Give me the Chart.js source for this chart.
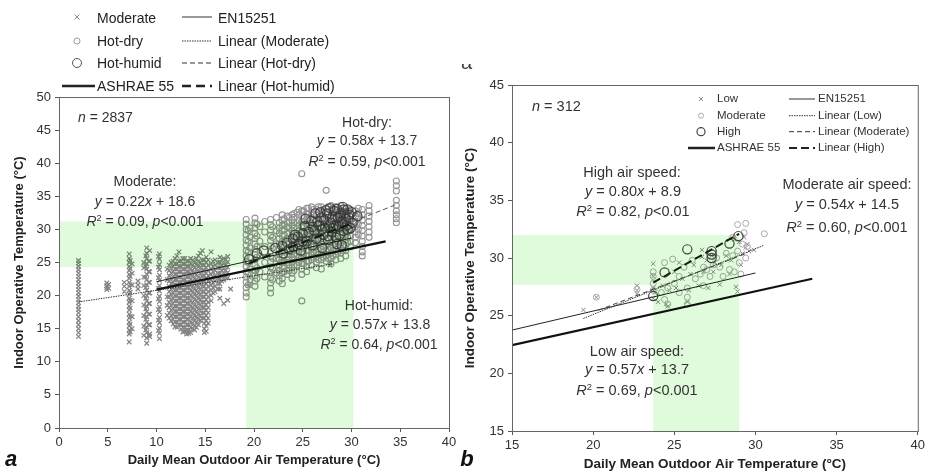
<!DOCTYPE html>
<html>
<head>
<meta charset="utf-8">
<script src="https://cdn.jsdelivr.net/npm/chart.js@4.4.0/dist/chart.umd.min.js"></script>
<style>
  body { margin: 0; background: #fff; font-family: 'Liberation Sans', Arial, sans-serif; }
  #page { position: relative; width: 928px; height: 472px; overflow: hidden; }
  canvas { position: absolute; top: 0; }
  .t { position: absolute; white-space: nowrap; color: #333; font-size: 14px; line-height: 1; transform: translate(-50%, -50%); }
  .l { transform: translate(0, -50%); }
  .s { font-size: 14.5px; }
  .lg { color: #222; }
  .lg2 { font-size: 11.5px; color: #333; }
  .panel { font-weight: bold; font-style: italic; font-size: 22px; color: #111; }
  sup { font-size: 0.65em; line-height: 0; vertical-align: 0.5em; }
</style>
</head>
<body>
<div id="page">
  <canvas id="chartA" width="460" height="472" style="left:0"></canvas>
  <canvas id="chartB" width="468" height="472" style="left:460px"></canvas>

  <svg width="928" height="472" style="position:absolute;left:0;top:0;pointer-events:none">
    <!-- legend a -->
    <g stroke="#8c8c8c" stroke-width="1"><line x1="74.5" y1="14.5" x2="79.5" y2="19.5"/><line x1="79.5" y1="14.5" x2="74.5" y2="19.5"/></g>
    <circle cx="77" cy="41" r="3" fill="none" stroke="#9c9c9c"/>
    <circle cx="77" cy="63" r="4.5" fill="none" stroke="#555"/>
    <line x1="62" y1="86" x2="95" y2="86" stroke="#222" stroke-width="2.5"/>
    <line x1="182" y1="17" x2="212" y2="17" stroke="#333"/>
    <line x1="182" y1="41" x2="212" y2="41" stroke="#333" stroke-dasharray="1.5,1"/>
    <line x1="182" y1="63" x2="212" y2="63" stroke="#333" stroke-dasharray="5,3"/>
    <line x1="182" y1="86" x2="212" y2="86" stroke="#222" stroke-width="2.5" stroke-dasharray="9,5"/>
    <!-- legend b -->
    <g stroke="#8c8c8c" stroke-width="1"><line x1="699" y1="97" x2="703" y2="101"/><line x1="703" y1="97" x2="699" y2="101"/></g>
    <circle cx="701" cy="115.7" r="2.5" fill="none" stroke="#aaa"/>
    <circle cx="701" cy="131.7" r="4" fill="none" stroke="#444" stroke-width="1.2"/>
    <line x1="688" y1="148" x2="715" y2="148" stroke="#222" stroke-width="2.5"/>
    <line x1="789" y1="99" x2="815" y2="99" stroke="#333"/>
    <line x1="789" y1="115.7" x2="815" y2="115.7" stroke="#333" stroke-dasharray="1.5,1"/>
    <line x1="789" y1="131.7" x2="815" y2="131.7" stroke="#333" stroke-dasharray="5,3"/>
    <line x1="789" y1="148" x2="815" y2="148" stroke="#222" stroke-width="2" stroke-dasharray="8,4"/>
  </svg>

  <!-- legend text a -->
  <div class="t l lg" style="left:97px;top:18px">Moderate</div>
  <div class="t l lg" style="left:97px;top:41px">Hot-dry</div>
  <div class="t l lg" style="left:97px;top:63px">Hot-humid</div>
  <div class="t l lg" style="left:97px;top:86px">ASHRAE 55</div>
  <div class="t l lg" style="left:218px;top:18px">EN15251</div>
  <div class="t l lg" style="left:218px;top:41px">Linear (Moderate)</div>
  <div class="t l lg" style="left:218px;top:63px">Linear (Hot-dry)</div>
  <div class="t l lg" style="left:218px;top:86px">Linear (Hot-humid)</div>

  <!-- legend text b -->
  <div class="t l lg2" style="left:717px;top:99px">Low</div>
  <div class="t l lg2" style="left:717px;top:116px">Moderate</div>
  <div class="t l lg2" style="left:717px;top:132px">High</div>
  <div class="t l lg2" style="left:717px;top:148px">ASHRAE 55</div>
  <div class="t l lg2" style="left:818px;top:99px">EN15251</div>
  <div class="t l lg2" style="left:818px;top:116px">Linear (Low)</div>
  <div class="t l lg2" style="left:818px;top:132px">Linear (Moderate)</div>
  <div class="t l lg2" style="left:818px;top:148px">Linear (High)</div>

  <!-- annotations a -->
  <div class="t l" style="left:78px;top:117px"><i>n</i> = 2837</div>
  <div class="t" style="left:145px;top:181px">Moderate:</div>
  <div class="t" style="left:145px;top:201px"><i>y</i> = 0.22<i>x</i> + 18.6</div>
  <div class="t" style="left:145px;top:221px"><i>R</i><sup>2</sup> = 0.09, <i>p</i>&lt;0.001</div>
  <div class="t" style="left:367px;top:122px">Hot-dry:</div>
  <div class="t" style="left:367px;top:140px"><i>y</i> = 0.58<i>x</i> + 13.7</div>
  <div class="t" style="left:367px;top:161px"><i>R</i><sup>2</sup> = 0.59, <i>p</i>&lt;0.001</div>
  <div class="t" style="left:379px;top:305px">Hot-humid:</div>
  <div class="t" style="left:380px;top:324px"><i>y</i> = 0.57<i>x</i> + 13.8</div>
  <div class="t" style="left:379px;top:344px"><i>R</i><sup>2</sup> = 0.64, <i>p</i>&lt;0.001</div>

  <!-- annotations b -->
  <div class="t l s" style="left:532px;top:106px"><i>n</i> = 312</div>
  <div class="t s" style="left:632px;top:172px">High air speed:</div>
  <div class="t s" style="left:633px;top:191px"><i>y</i> = 0.80<i>x</i> + 8.9</div>
  <div class="t s" style="left:633px;top:211px"><i>R</i><sup>2</sup> = 0.82, <i>p</i>&lt;0.01</div>
  <div class="t s" style="left:847px;top:184px">Moderate air speed:</div>
  <div class="t s" style="left:847px;top:204px"><i>y</i> = 0.54<i>x</i> + 14.5</div>
  <div class="t s" style="left:847px;top:227px"><i>R</i><sup>2</sup> = 0.60, <i>p</i>&lt;0.001</div>
  <div class="t s" style="left:637px;top:351px">Low air speed:</div>
  <div class="t s" style="left:637px;top:369px"><i>y</i> = 0.57<i>x</i> + 13.7</div>
  <div class="t s" style="left:637px;top:390px"><i>R</i><sup>2</sup> = 0.69, <i>p</i>&lt;0.001</div>

  <!-- panel letters -->
  <div class="t panel" style="left:11px;top:459px">a</div>
  <div class="t panel" style="left:467px;top:459px">b</div>
  <div style="position:absolute;left:461px;top:64px;width:12px;height:10px;overflow:hidden">
    <div style="position:absolute;left:0;top:-12px;font-size:20px;line-height:1;color:#444">a</div>
  </div>
</div>

<script>
Chart.defaults.font.family = "'Liberation Sans', Arial, sans-serif";
Chart.defaults.color = '#333';

// ---- panel a: climate zones (x = outdoor, ys = indoor) ----
const moderateCols = [
  [2.0, [25.3,24.9,24.4,23.9,23.4,22.9,22.4,21.9,21.4,20.9,20.4,19.9,19.4,18.9,18.4,17.9,17.4,16.8,16.2,15.6,15.0,14.4,13.8]],
  [4.9, [21.9,21.5,21.2,20.9]],
  [5.1, [21.7,21.1]],
  [6.7, [22.0,21.4,20.6]],
  [7.2, [26.3,25.6,25.0,24.4,23.8,23.2,22.6,22.0,21.4,20.8,20.2,19.6,19.0,18.4,17.8,17.2,16.6,16.0,15.4,14.8,14.2,13.0]],
  [7.3, [25.3,24.1,22.9,21.7,20.5,19.3,18.1,16.9,15.7,14.5]],
  [7.5, [24.8,23.4,21.6,19.2,16.8,15.0]],
  [8.1, [22.2,21.6,21.0]],
  [8.7, [25.0,24.2,22.8,21.5,20.0,18.6,17.0,15.4,14.0]],
  [8.9, [26.0,24.4,22.8,21.2,19.6,18.0,16.4,14.8]],
  [9.0, [27.2,26.4,25.6,24.8,24.0,23.2,22.4,21.6,20.8,20.0,19.2,18.4,17.6,16.8,16.0,15.2,14.4,13.6,12.8]],
  [9.2, [25.2,23.6,22.0,20.4,18.8,17.2,15.6,14.0]],
  [9.3, [26.8,25.2,23.6,22.0,20.4,18.8,17.2,15.6,14.2,13.8]],
  [10.2, [25.9,24.3,22.7,21.1,19.5,17.9,16.3,14.7]],
  [10.3, [26.3,25.5,24.7,23.9,23.1,22.3,21.5,20.7,19.9,19.1,18.3,17.5,16.7,15.9,15.1,14.3,13.5]],
  [11.1, [24.0,22.4,19.8,18.5,17.0]],
  [11.3, [24.6,23.8,23.0,22.2,21.4,20.6,19.8,19.0,18.2,17.4,16.6]],
  [11.5, [25.0,24.2,23.4,22.6,21.8,21.0,20.2,19.4,18.6,17.8,17.0,16.2]],
  [11.7, [25.2,24.4,23.6,22.8,22.0,21.2,20.4,19.6,18.8,18.0,17.2,16.4,15.7]],
  [11.9, [25.6,24.8,24.0,23.2,22.4,21.6,20.8,20.0,19.2,18.4,17.6,16.8,16.0,15.3]],
  [12.1, [26.0,24.8,24.0,23.2,22.4,21.6,20.8,20.0,19.2,18.4,17.6,16.8,16.0,15.2]],
  [12.3, [26.6,25.2,24.4,23.6,22.8,22.0,21.2,20.4,19.6,18.8,18.0,17.2,16.4,15.6]],
  [12.5, [25.2,24.4,23.6,22.8,22.0,21.2,20.4,19.6,18.8,18.0,17.2,16.4,15.6,14.9]],
  [12.7, [25.6,24.8,24.0,23.2,22.4,21.6,20.8,20.0,19.2,18.4,17.6,16.8,16.0,15.2,14.5]],
  [12.9, [25.6,24.8,24.0,23.2,22.4,21.6,20.8,20.0,19.2,18.4,17.6,16.8,16.0,15.2,14.6]],
  [13.1, [25.2,24.4,23.6,22.8,22.0,21.2,20.4,19.6,18.8,18.0,17.2,16.4,15.6,14.8,14.2]],
  [13.3, [25.2,24.4,23.6,22.8,22.0,21.2,20.4,19.6,18.8,18.0,17.2,16.4,15.6,14.8,14.3]],
  [13.5, [25.6,24.8,24.0,23.2,22.4,21.6,20.8,20.0,19.2,18.4,17.6,16.8,16.0,15.2,14.4]],
  [13.7, [25.4,24.6,23.8,23.0,22.2,21.4,20.6,19.8,19.0,18.2,17.4,16.6,15.8,15.0]],
  [13.9, [25.0,24.2,23.4,22.6,21.8,21.0,20.2,19.4,18.6,17.8,17.0,16.2,15.4,14.8]],
  [14.1, [25.6,24.8,24.0,23.2,22.4,21.6,20.8,20.0,19.2,18.4,17.6,16.8,16.0,15.2]],
  [14.3, [26.0,25.2,24.4,23.6,22.8,22.0,21.2,20.4,19.6,18.8,18.0,17.2,16.4,15.6]],
  [14.5, [26.4,25.0,24.2,23.4,22.6,21.8,21.0,20.2,19.4,18.6,17.8,17.0,16.2]],
  [14.7, [26.8,25.4,24.6,23.8,23.0,22.2,21.4,20.6,19.8,19.0,18.2,17.4,16.6]],
  [14.9, [25.4,24.6,23.8,23.0,22.2,21.4,20.6,19.8,19.0,18.2,17.4,16.6,15.8,15.0,14.4]],
  [15.1, [25.8,25.0,24.2,23.4,22.6,21.8,21.0,20.2,19.4,18.6,17.8,17.0,16.2,15.4,14.6]],
  [15.3, [25.4,24.6,23.8,23.0,22.2,21.4,20.6,19.8,19.0,18.2,17.4,16.6,15.8]],
  [15.6, [26.6,24.8,24.0,23.2,22.4,21.6,20.8,20.0,19.2]],
  [15.8, [25.2,24.4,23.6,22.8,22.0,21.2,20.4]],
  [16.0, [25.4,24.6,23.8,23.0,22.2,21.4,20.6]],
  [16.3, [25.0,24.2,23.4,22.6,21.8,21.0]],
  [16.5, [25.8,25.0,24.2,23.4,22.6,21.8,21.0,19.6]],
  [16.7, [25.4,24.6,23.8,23.0,22.2]],
  [16.9, [25.6,24.8,24.0,23.2,22.4,18.8]],
  [17.1, [25.4,24.6,23.8,23.0]],
  [17.3, [25.9,25.1,24.3,23.5,22.7,19.3]],
  [17.6, [21.0]],
  [19.5, [22.8,21.5]],
  [20.3, [23.4]],
  [27.8, [25.0,24.6]]
];

const hotDryCols = [
  [19.2, [31.5,30.8,30.0,29.2,28.4,27.6,26.8,26.0,25.2,24.4,23.6,22.8,22.0,21.2,20.4,19.8]],
  [19.4, [29.8,28.2,26.6,25.0,23.4,21.6]],
  [19.6, [30.2,28.8,27.2,25.8,24.0,22.4]],
  [20.1, [31.7,31.0,30.2,29.4,28.6,27.8,27.0,26.2,25.4,24.6,23.8,23.0,22.2,21.4]],
  [20.3, [30.8,29.0,27.4,25.8,24.2,22.6]],
  [20.6, [30.4,28.2,26.0,23.6]],
  [21.1, [31.2,29.6,27.4,25.0,22.8]],
  [21.7, [31.5,30.7,29.9,29.1,28.3,27.5,26.7,25.9,25.1,24.3,23.5,22.7,21.9,21.1,20.4]],
  [21.9, [30.4,28.8,27.2,25.6,24.0,22.4]],
  [22.3, [31.8,29.8,27.8,25.6,23.4]],
  [22.6, [31.0,30.2,29.4,28.6,27.8,27.0,26.2,25.4,24.6,23.8,23.0,22.2]],
  [22.9, [32.2,31.4,30.6,29.8,29.0,28.2,27.4,26.6,25.8,25.0,24.2,23.4,22.6,21.8]],
  [23.1, [31.6,30.8,30.0,29.2,28.4,27.6,26.8,26.0,25.2,24.4,23.6]],
  [23.4, [32.0,30.4,28.6,26.8,25.0,23.2]],
  [23.6, [31.8,31.0,30.2,29.4,28.6,27.8,27.0,26.2,25.4,24.6,23.8]],
  [23.9, [32.2,31.4,30.6,29.8,29.0,28.2,27.4,26.6,25.8,25.0,24.2,23.4,22.6]],
  [24.1, [32.4,31.8,31.0,30.2,29.4,28.6,27.8,27.0,26.2,25.4,24.6,23.8]],
  [24.4, [32.6,31.0,29.4,27.8,26.2,24.6]],
  [24.6, [33.0,32.2,31.4,30.6,29.8,29.0,28.2,27.4,26.6,25.8,25.0]],
  [24.9, [38.4,32.8,32.0,31.2,30.4,29.6,28.8,28.0,27.2,26.4,25.6,24.8,24.0,23.2,19.2]],
  [25.1, [32.8,32.0,31.2,30.4,29.6,28.8,28.0,27.2,26.4,25.6,24.8]],
  [25.4, [33.2,32.4,31.6,30.8,30.0,29.2,28.4,27.6,26.8,26.0,25.2,24.4,23.6]],
  [25.6, [33.2,32.4,31.6,30.8,30.0,29.2,28.4,27.6,26.8,26.0,25.2]],
  [25.9, [33.4,32.6,31.8,31.0,30.2,29.4,28.6,27.8,27.0,26.2,25.4,24.6]],
  [26.1, [33.0,32.2,31.4,30.6,29.8,29.0,28.2,27.4,26.6,25.8]],
  [26.4, [33.0,32.2,31.4,30.6,29.8,29.0,28.2,27.4,26.6,25.8,25.0,24.2]],
  [26.6, [33.4,32.6,31.8,31.0,30.2,29.4,28.6,27.8,27.0,26.2,25.4]],
  [26.9, [33.4,32.6,31.8,31.0,30.2,29.4,28.6,27.8,27.0,26.2,25.4,24.0]],
  [27.1, [33.0,32.2,31.4,30.6,29.8,29.0,28.2,27.4,26.6,25.8]],
  [27.4, [35.9,33.2,32.4,31.6,30.8,30.0,29.2,28.4,27.6,26.8,26.0,25.2]],
  [27.6, [33.4,32.6,31.8,31.0,30.2,29.4,28.6,27.8,27.0,26.2,25.6]],
  [27.9, [33.6,32.8,32.0,31.2,30.4,29.6,28.8,28.0,27.2,26.4,25.6,24.8]],
  [28.1, [33.2,32.4,31.6,30.8,30.0,29.2,28.4,27.6,26.8,26.0]],
  [28.4, [33.4,32.6,31.8,31.0,30.2,29.4,28.6,27.8,27.0,26.2,25.4]],
  [28.6, [33.0,32.2,31.4,30.6,29.8,29.0,28.2,27.4,26.6]],
  [28.9, [33.6,32.8,32.0,31.2,30.4,29.6,28.8,28.0,27.2,26.4,25.6]],
  [29.1, [33.2,32.4,31.6,30.8,30.0,29.2,28.4,27.6,26.8]],
  [29.4, [33.2,32.4,31.6,30.8,30.0,29.2,28.4,27.6,26.8,26.0]],
  [29.6, [32.8,32.0,31.2,30.4,29.6,28.8,28.0]],
  [29.9, [33.0,32.2,31.4,30.6,29.8,29.0,28.2,27.4]],
  [30.4, [32.8,32.0,31.2,30.4,29.6,28.8,28.0]],
  [30.7, [33.2,32.4,31.6,30.8,30.0,29.2]],
  [31.1, [33.0,32.2,31.4,30.6,29.8,29.0,28.2,27.4,26.6,26.0]],
  [31.8, [33.6,32.8,32.0,31.2,30.4,29.6,28.8]],
  [34.6, [37.3,36.6,35.8,34.4,33.6,32.8,32.2,31.6,31.0]]
];

const hotHumidPts = [
  [19.5,25.5],[20.3,26.4],[21.0,26.8],[22.2,27.2],[22.9,27.5],[23.0,26.4],[23.4,28.0],[23.6,27.0],
  [24.0,28.6],[24.0,27.4],[24.2,29.2],[24.5,28.9],[24.6,27.8],[24.8,26.8],[25.0,29.4],[25.0,28.2],
  [25.2,30.5],[25.3,31.6],[25.4,28.2],[25.6,29.6],[25.9,31.3],[26.0,27.6],[26.0,30.4],[26.2,29.8],
  [26.3,32.4],[26.4,28.6],[26.5,31.2],[26.7,30.6],[26.8,32.6],[26.9,31.8],[27.0,27.2],[27.0,30.0],
  [27.1,29.2],[27.2,31.4],[27.3,30.2],[27.4,32.9],[27.5,32.4],[27.6,28.4],[27.6,29.0],[27.7,30.6],
  [27.8,33.2],[27.9,31.0],[28.0,29.6],[28.0,31.6],[28.1,30.2],[28.2,32.8],[28.3,31.9],[28.4,30.6],
  [28.4,28.8],[28.5,27.8],[28.5,33.1],[28.6,31.8],[28.7,30.4],[28.8,29.2],[28.8,32.0],[28.9,32.4],
  [29.0,27.6],[29.0,31.2],[29.1,30.8],[29.1,33.4],[29.2,33.0],[29.2,29.8],[29.3,32.4],[29.4,31.6],
  [29.5,30.6],[29.6,30.0],[29.6,33.0],[29.7,31.8],[29.8,32.2],[29.9,30.2],[30.0,32.6],[30.1,31.0],
  [30.6,32.0]
];

// reference lines, [x, y] end points
const en15251A = [[10, 22.1], [30, 28.7]];
const ashraeA = [[10, 20.9], [33.5, 28.2]];
const linModerateA = [[2, 19.04], [28, 24.76]];
const linHotDryA = [[19.5, 25.0], [34.5, 33.7]];
const linHotHumidA = [[19.5, 24.9], [30.2, 31.0]];
// comfort zone: x from, x to, y from, y to
const zoneA = [19.2, 30.2, 24.3, 31.2];

// ---- panel b: air speed groups ----
const lowPts = [
  [19.4,25.5],[20.2,26.6],[22.7,27.6],[22.7,27.2],[22.7,26.9],[23.7,29.5],[23.7,28.4],[23.7,27.4],
  [23.7,26.5],[23.8,27.0],[24.0,26.2],[24.3,27.6],[24.5,26.0],[24.6,25.8],[24.7,27.2],[25.0,28.8],
  [25.3,29.6],[25.1,27.4],[25.5,28.2],[25.8,26.2],[25.9,27.2],[26.0,28.6],[26.2,29.4],[26.5,27.6],
  [26.7,30.7],[26.7,30.1],[26.8,28.8],[27.0,29.8],[27.1,27.4],[27.3,30.2],[27.4,28.8],[27.5,29.6],
  [27.8,27.7],[27.9,29.4],[28.2,30.2],[28.4,28.6],[28.5,29.8],[28.8,27.5],[28.9,27.1],[29.0,31.4],
  [29.2,30.4],[29.3,31.8],[29.4,30.9],[29.5,31.2],[29.6,30.6],[29.9,30.7],[28.7,31.6],[29.1,29.4]
];
const modPtsB = [
  [20.2,26.6],[22.7,27.3],[23.7,28.8],[23.7,28.4],[23.7,27.8],[23.7,27.2],[24.2,27.0],[24.4,26.4],
  [24.6,26.0],[24.6,27.4],[24.9,29.9],[25.0,27.8],[25.3,28.4],[25.3,27.0],[25.8,26.6],[25.8,26.0],
  [25.8,27.4],[26.1,29.8],[26.3,28.2],[26.6,28.6],[26.8,27.6],[26.8,29.2],[27.0,29.0],[27.2,28.4],
  [27.4,29.4],[27.6,30.0],[27.8,29.2],[28.0,28.4],[28.2,30.4],[28.4,29.0],[28.6,30.2],[28.6,31.8],
  [28.7,28.8],[28.9,32.9],[28.9,30.6],[29.0,29.6],[29.1,28.6],[29.2,31.2],[29.4,33.0],[29.4,30.0],
  [29.3,32.2],[29.5,31.0],[30.55,32.1],[24.4,29.6],[25.6,29.2]
];
const highPts = [
  [23.7,26.7],[24.4,28.75],[25.8,30.75],[27.3,30.6],[27.3,30.3],[27.3,30.0],[28.4,31.25],[28.95,31.9]
];

const en15251B = [[15, 23.75], [30, 28.7]];
const ashraeB = [[15, 22.45], [33.5, 28.2]];
const linLowB = [[19.4, 24.76], [30.5, 31.09]];
const linModB = [[20.3, 25.46], [29.5, 30.43]];
const linHighB = [[23.7, 27.86], [29.0, 32.1]];
const zoneB = [23.7, 29.0, 27.65, 32.0];

// helpers
const fromCols = cols => cols.flatMap(([x, ys]) => ys.map(y => ({ x, y })));
const fromPairs = pts => pts.map(([x, y]) => ({ x, y }));

function lineSet(pts, width, dash, color) {
  return { data: fromPairs(pts), showLine: true, pointRadius: 0, borderWidth: width,
           borderDash: dash, borderColor: color, fill: false };
}

// green comfort band drawn in multiply mode so markers under it take a green tint
const zonePlugin = {
  id: 'zone',
  afterDatasetsDraw(chart, args, opts) {
    const { ctx, scales: { x, y } } = chart;
    const [x0, x1, y0, y1] = opts.zone;
    ctx.save();
    ctx.globalCompositeOperation = 'multiply';
    ctx.fillStyle = 'rgb(224,251,219)';
    ctx.beginPath();
    ctx.moveTo(x.getPixelForValue(x.min), y.getPixelForValue(y0));
    ctx.lineTo(x.getPixelForValue(x0), y.getPixelForValue(y0));
    ctx.lineTo(x.getPixelForValue(x0), y.getPixelForValue(y.min));
    ctx.lineTo(x.getPixelForValue(x1), y.getPixelForValue(y.min));
    ctx.lineTo(x.getPixelForValue(x1), y.getPixelForValue(y1));
    ctx.lineTo(x.getPixelForValue(x.min), y.getPixelForValue(y1));
    ctx.closePath();
    ctx.fill();
    ctx.restore();
  }
};

const framePlugin = {
  id: 'frame',
  afterDraw(chart) {
    const { ctx, chartArea: a } = chart;
    ctx.save();
    ctx.strokeStyle = '#666';
    ctx.lineWidth = 1;
    ctx.strokeRect(a.left + 0.5, a.top + 0.5, a.right - a.left, a.bottom - a.top);
    ctx.restore();
  }
};

function makeChart(id, datasets, xr, yr, box, zone, titleSize, titlePad) {
  return new Chart(document.getElementById(id), {
    type: 'scatter',
    data: { datasets },
    plugins: [zonePlugin, framePlugin],
    options: {
      responsive: false,
      animation: false,
      devicePixelRatio: 1,
      layout: { padding: { top: box.top, right: box.right, left: 0, bottom: 0 } },
      plugins: { legend: { display: false }, tooltip: { enabled: false }, zone: { zone } },
      scales: {
        x: {
          type: 'linear', min: xr[0], max: xr[1],
          ticks: { stepSize: 5, font: { size: 13 }, color: '#333', padding: 3 },
          grid: { drawOnChartArea: false, drawTicks: true, tickLength: 4, color: '#555' },
          border: { color: '#555' },
          title: { display: true, text: 'Daily Mean Outdoor Air Temperature (°C)', color: '#222',
                   font: { size: titleSize, weight: 'bold' }, padding: { top: 0, bottom: titlePad.x } },
          afterFit: s => { s.height = box.xh; }
        },
        y: {
          type: 'linear', min: yr[0], max: yr[1],
          ticks: { stepSize: 5, font: { size: 13 }, color: '#333', padding: 4 },
          grid: { drawOnChartArea: false, drawTicks: true, tickLength: 4, color: '#555' },
          border: { color: '#555' },
          title: { display: true, text: 'Indoor Operative Temperature (°C)', color: '#222',
                   font: { size: titleSize, weight: 'bold' }, padding: { top: titlePad.y, bottom: 0 } },
          afterFit: s => { s.width = box.yw; }
        }
      }
    }
  });
}

makeChart('chartA', [
  lineSet(linHotHumidA, 2.2, [9, 5], '#1a1a1a'),
  lineSet(linHotDryA, 1, [5, 3], '#555'),
  lineSet(linModerateA, 1, [1.5, 1], '#333'),
  lineSet(ashraeA, 2.2, [], '#111'),
  lineSet(en15251A, 1, [], '#222'),
  { data: fromPairs(hotHumidPts), pointStyle: 'circle', pointRadius: 4.6, pointBorderWidth: 1.3,
    pointBorderColor: 'rgba(55,55,55,0.85)', pointBackgroundColor: 'rgba(0,0,0,0)' },
  { data: fromCols(hotDryCols), pointStyle: 'circle', pointRadius: 3, pointBorderWidth: 1.1,
    pointBorderColor: '#949494', pointBackgroundColor: 'rgba(0,0,0,0)' },
  { data: fromCols(moderateCols), pointStyle: 'crossRot', pointRadius: 3.2, pointBorderWidth: 1.2,
    pointBorderColor: '#838383' }
], [0, 40], [0, 50], { top: 97, right: 11, xh: 44, yw: 59 }, zoneA, 13, { x: 4, y: 12 });

makeChart('chartB', [
  lineSet(linHighB, 2, [8, 4], '#1a1a1a'),
  lineSet(linModB, 1, [5, 3], '#444'),
  lineSet(linLowB, 1, [1.5, 1], '#333'),
  lineSet(ashraeB, 2.2, [], '#111'),
  lineSet(en15251B, 1, [], '#222'),
  { data: fromPairs(highPts), pointStyle: 'circle', pointRadius: 4.6, pointBorderWidth: 1.2,
    pointBorderColor: 'rgba(50,50,50,0.9)', pointBackgroundColor: 'rgba(0,0,0,0)' },
  { data: fromPairs(modPtsB), pointStyle: 'circle', pointRadius: 3, pointBorderWidth: 1,
    pointBorderColor: '#a8a8a8', pointBackgroundColor: 'rgba(0,0,0,0)' },
  { data: fromPairs(lowPts), pointStyle: 'crossRot', pointRadius: 3, pointBorderWidth: 1,
    pointBorderColor: '#8a8a8a' }
], [15, 40], [15, 45], { top: 85, right: 8, xh: 41, yw: 52 }, zoneB, 13.5, { x: 0, y: 2 });
</script>
</body>
</html>
